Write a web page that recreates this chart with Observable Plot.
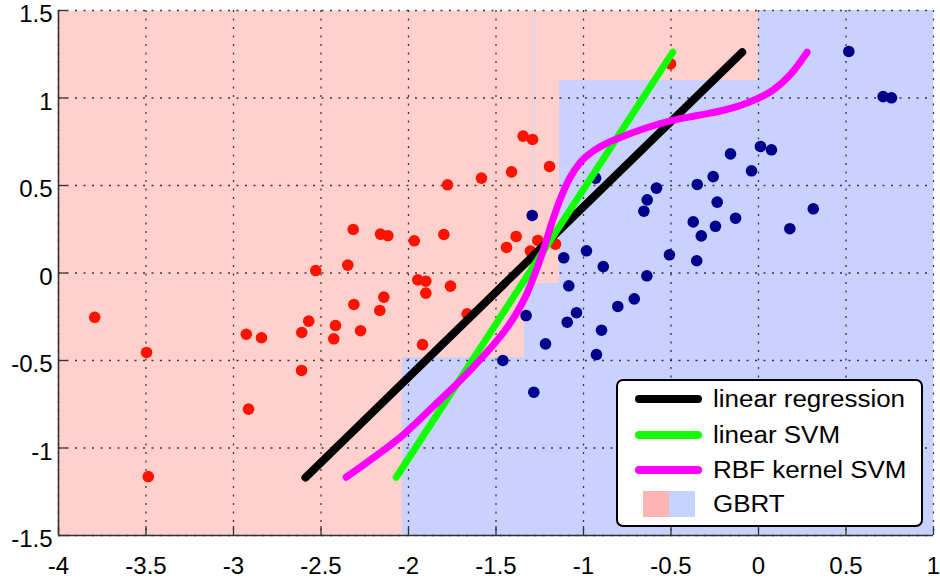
<!DOCTYPE html>
<html><head><meta charset="utf-8">
<script src="https://cdn.jsdelivr.net/npm/d3@7"></script>
<script src="https://cdn.jsdelivr.net/npm/@observablehq/plot@0.6"></script>
<style>
body{margin:0;background:#fff;}
#chart{position:relative;width:940px;height:584px;}
</style>
</head><body><div id="chart"></div>
<script>
const xDomain = [-4, 1];
const yDomain = [-1.5, 1.5];
const xTicks = [-4, -3.5, -3, -2.5, -2, -1.5, -1, -0.5, 0, 0.5, 1];
const yTicks = [-1.5, -1, -0.5, 0, 0.5, 1, 1.5];

// GBRT decision regions (blue class) over a red background
const gbrtX1 = [-2.034, -1.337, -1.137, 0.0, -1.291];
const gbrtX2 = [1, 1, 1, 1, -1.285];
const gbrtY1 = [-1.5, -0.483, -0.06, 1.1, 0.169];
const gbrtY2 = [-0.483, -0.06, 1.1, 1.5, 1.5];

// class 1 (red) points
const redX = [-3.793,-3.497,-3.487,-2.927,-2.840,-2.914,-2.610,-2.611,-2.570,-2.530,-2.347,-2.316,-2.312,-2.417,-2.427,-2.274,-2.160,-2.118,-2.141,-2.164,-1.967,-1.798,-1.947,-1.901,-1.901,-1.760,-1.920,-1.665,-1.777,-1.583,-1.411,-1.345,-1.291,-1.440,-1.385,-1.261,-1.303,-1.194,-1.160,-0.503];
const redY = [-0.253,-0.454,-1.163,-0.350,-0.370,-0.778,-0.340,-0.557,-0.275,0.014,0.045,0.249,-0.180,-0.300,-0.376,-0.330,0.222,0.213,-0.138,-0.214,0.184,0.220,-0.039,-0.047,-0.115,-0.075,-0.409,-0.233,0.504,0.542,0.578,0.782,0.763,0.146,0.209,0.186,0.125,0.609,0.165,1.195];

// class 2 (blue) points
const blueX = [-1.293,-1.328,-1.461,-0.931,-1.113,-0.983,-0.887,-1.084,-1.040,-1.093,-1.217,-1.284,-0.897,-0.926,-0.804,-0.710,-0.638,-0.509,-0.353,-0.655,-0.636,-0.583,-0.350,-0.259,-0.373,-0.327,-0.236,-0.246,0.516,0.712,0.760,-0.160,0.011,0.074,-0.040,-0.131,0.313,0.179];
const blueY = [0.329,-0.243,-0.500,0.542,0.087,0.127,0.037,-0.073,-0.227,-0.281,-0.405,-0.681,-0.327,-0.466,-0.191,-0.148,-0.016,0.104,0.070,0.353,0.418,0.485,0.506,0.551,0.292,0.212,0.405,0.267,1.266,1.008,1.001,0.681,0.723,0.704,0.584,0.313,0.367,0.253];

// decision boundaries
const lrX = [-2.589, -0.093];
const lrY = [-1.169, 1.262];
const svmX = [-2.070, -0.490];
const svmY = [-1.167, 1.262];
const rbfX = [-2.356,-2.2,-2.036,-1.856,-1.7,-1.55,-1.45,-1.38,-1.32,-1.28,-1.23,-1.18,-1.13,-1.08,-1.02,-0.96,-0.88,-0.8,-0.656,-0.503,-0.35,-0.2,-0.065,0.087,0.183,0.278];
const rbfY = [-1.167,-1.055,-0.93,-0.76,-0.61,-0.45,-0.33,-0.225,-0.11,-0.01,0.13,0.29,0.43,0.54,0.63,0.685,0.735,0.77,0.824,0.869,0.9,0.93,0.972,1.048,1.135,1.262];

const legendLabels = ["linear regression", "linear SVM", "RBF kernel SVM", "GBRT"];
const lineColors = ["#000000", "#11ff00", "#ff00ff"];
const regionColors = ["#ffd0cc", "#c9d1fe"];
const legendPatchColors = ["#ffb5b3", "#c4d4ff"];
const dotColors = ["#ff1200", "#00008c"];

const zipXY = (xs, ys) => xs.map((x, i) => ({x, y: ys[i]}));
const regions = gbrtX1.map((x1, i) => ({x1, x2: gbrtX2[i], y1: gbrtY1[i], y2: gbrtY2[i]}));

const W = 940, H = 584, mL = 58, mR = 7, mT = 10, mB = 49;
const innerW = W - mL - mR, innerH = H - mT - mB;
const tickLen = 9;

const plot = Plot.plot({
  width: W, height: H,
  marginLeft: mL, marginRight: mR, marginTop: mT, marginBottom: mB,
  x: {domain: xDomain, label: null},
  y: {domain: yDomain, label: null},
  style: {fontFamily: "'Liberation Sans', Arial, sans-serif", fontSize: "24px", color: "#000", background: "#fff", overflow: "visible"},
  marks: [
    Plot.frame({fill: regionColors[0], stroke: null}),
    Plot.rect(regions, {x1: "x1", x2: "x2", y1: "y1", y2: "y2", fill: regionColors[1], shapeRendering: "crispEdges"}),
    Plot.gridX(xTicks, {stroke: "#000", strokeOpacity: 0.75, strokeWidth: 1.3, strokeDasharray: "2,6.5"}),
    Plot.gridY(yTicks, {stroke: "#000", strokeOpacity: 0.75, strokeWidth: 1.3, strokeDasharray: "2,6.5"}),
    Plot.tickX(xTicks, {x: d => d, insetTop: innerH - tickLen, stroke: "#333", strokeWidth: 1.3}),
    Plot.tickY(yTicks, {y: d => d, insetRight: innerW - tickLen, stroke: "#333", strokeWidth: 1.3}),
    Plot.ruleY([yDomain[0]], {stroke: "#333", strokeWidth: 1.6}),
    Plot.ruleX([xDomain[0]], {stroke: "#333", strokeWidth: 1.6}),
    Plot.dot(zipXY(redX, redY), {x: "x", y: "y", r: 5.8, fill: dotColors[0], stroke: null}),
    Plot.dot(zipXY(blueX, blueY), {x: "x", y: "y", r: 5.8, fill: dotColors[1], stroke: null}),
    Plot.line(zipXY(lrX, lrY), {x: "x", y: "y", stroke: lineColors[0], strokeWidth: 8, strokeLinecap: "round"}),
    Plot.line(zipXY(svmX, svmY), {x: "x", y: "y", stroke: lineColors[1], strokeWidth: 7, strokeLinecap: "round"}),
    Plot.line(zipXY(rbfX, rbfY), {x: "x", y: "y", stroke: lineColors[2], strokeWidth: 7, strokeLinecap: "round", curve: "monotone-x"}),
    Plot.axisX(xTicks, {tickSize: 0, tickPadding: 21, tickFormat: d => String(d), fontSize: 24}),
    Plot.axisY(yTicks, {tickSize: 0, tickPadding: 6, tickFormat: d => String(d), fontSize: 24, dy: 4})
  ]
});

document.getElementById("chart").appendChild(plot);

// legend (drawn into the plot's svg, in the lower-right corner of the frame)
const svg = d3.select(plot);
const lg = svg.append("g")
  .attr("font-family", "'Liberation Sans', Arial, sans-serif")
  .attr("font-size", 23)
  .attr("text-anchor", "start");
const boxX = 617, boxY = 380, boxW = 305, boxH = 146;
lg.append("rect").attr("x", boxX).attr("y", boxY).attr("width", boxW).attr("height", boxH)
  .attr("rx", 6).attr("fill", "#fff").attr("stroke", "#000").attr("stroke-width", 2);
const rowY = [399, 435, 470, 504];
lineColors.forEach((c, i) => {
  lg.append("line").attr("x1", 639).attr("x2", 698).attr("y1", rowY[i]).attr("y2", rowY[i])
    .attr("stroke", c).attr("stroke-width", 8).attr("stroke-linecap", "round");
});
lg.append("rect").attr("x", 643).attr("y", rowY[3] - 13).attr("width", 26).attr("height", 26).attr("fill", legendPatchColors[0]);
lg.append("rect").attr("x", 669).attr("y", rowY[3] - 13).attr("width", 26).attr("height", 26).attr("fill", legendPatchColors[1]);
legendLabels.forEach((t, i) => {
  lg.append("text").attr("transform", `translate(713,${rowY[i]}) scale(1.13,1)`)
    .attr("text-anchor", "start")
    .attr("dy", "0.36em").attr("fill", "#000").text(t);
});
</script>
</body></html>
